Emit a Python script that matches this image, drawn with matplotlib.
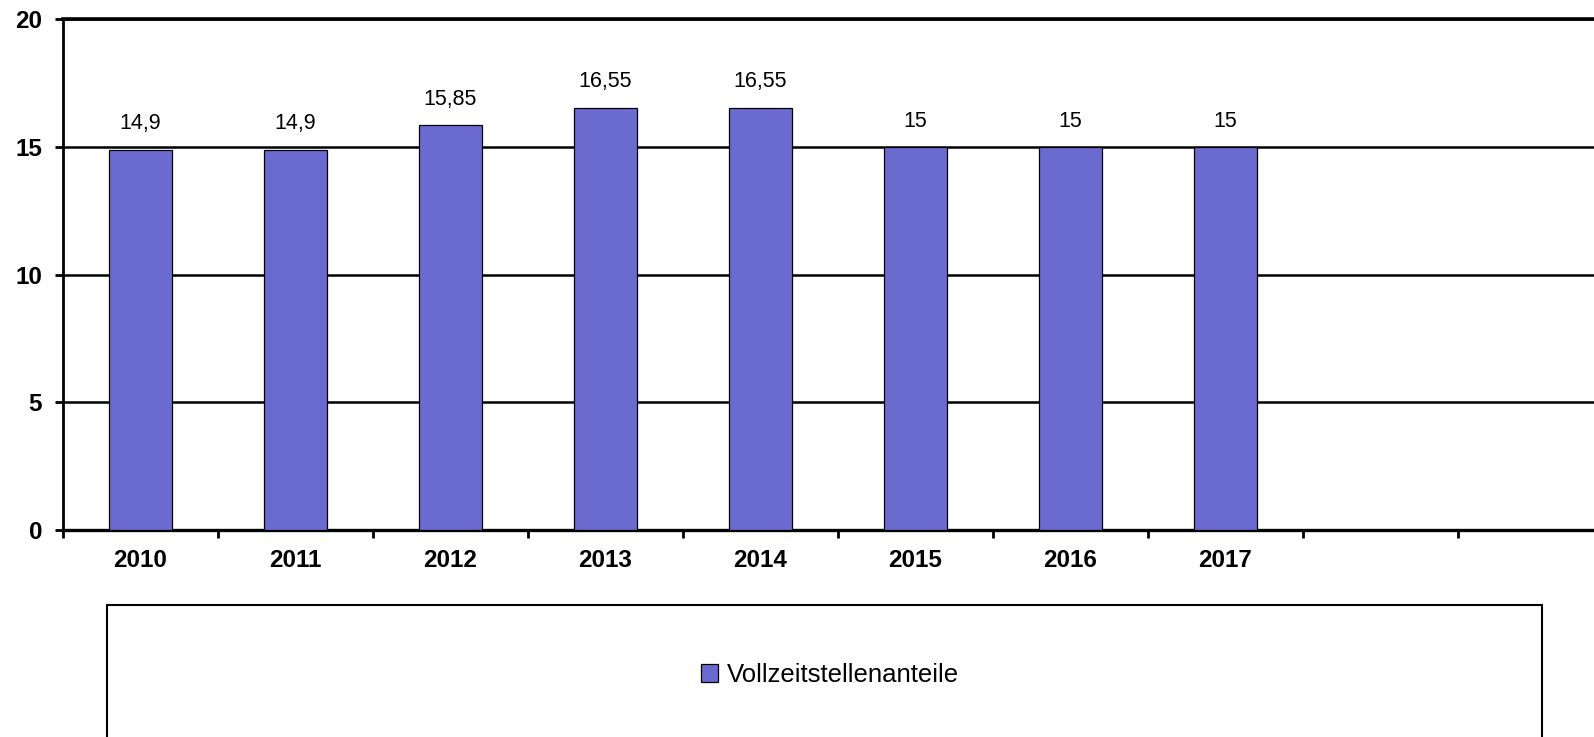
import matplotlib
matplotlib.use("Agg")
import matplotlib.pyplot as plt
from matplotlib.patches import Rectangle

plt.rcParams['font.family'] = ['Liberation Sans', 'DejaVu Sans']

# Daten
jahre = ['2010', '2011', '2012', '2013', '2014', '2015', '2016', '2017', '', '']
werte = [14.9, 14.9, 15.85, 16.55, 16.55, 15, 15, 15]
beschriftung = ['14,9', '14,9', '15,85', '16,55', '16,55', '15', '15', '15']
serie = 'Vollzeitstellenanteile'
farbe = '#6b6bcf'

fig = plt.figure(figsize=(15.94, 7.37), dpi=100)
ax = fig.add_axes([63 / 1594, 0.2809, 1550 / 1594, 0.6927])

x = list(range(len(werte)))
ax.bar(x, werte, width=0.41, color=farbe, edgecolor='black', linewidth=0.9,
       zorder=3, label=serie)

for xi, v, t in zip(x, werte, beschriftung):
    ax.annotate(t, (xi, v), xytext=(0, 11), textcoords='offset points',
                ha='center', va='bottom', fontsize=15.5)

ax.set_xlim(-0.5, len(jahre) - 0.5)
ax.set_ylim(0, 20)
ax.set_yticks([0, 5, 10, 15, 20])
for lab in ax.get_yticklabels():
    lab.set_fontweight('bold')
ax.set_xticks(range(len(jahre)))
ax.set_xticklabels(jahre, fontsize=17.5, fontweight='bold')
ax.set_xticks([i + 0.5 for i in range(-1, len(jahre))], minor=True)
ax.tick_params(axis='x', which='major', length=0, pad=14)
ax.tick_params(axis='x', which='minor', length=6, width=2, direction='out')
ax.tick_params(axis='y', length=6, width=2, pad=9, labelsize=17.5)

ax.yaxis.grid(True, color='black', linewidth=1.8, zorder=0)
ax.set_axisbelow(True)
ax.spines['right'].set_visible(False)
ax.spines['top'].set_linewidth(2.6)
ax.spines['left'].set_linewidth(2)
ax.spines['bottom'].set_linewidth(2.4)

# Legendenrahmen
fig.add_artist(Rectangle((107 / 1594, -0.05), (1542 - 107) / 1594, (737 - 605) / 737 + 0.05,
                         transform=fig.transFigure, fill=False, edgecolor='black', linewidth=1.5))
fig.legend(loc='center', bbox_to_anchor=(830 / 1594, 1 - 675 / 737), frameon=False,
           fontsize=18.5, handlelength=0.65, handleheight=0.65, handletextpad=0.35)

fig.savefig('out.png', dpi=100)
